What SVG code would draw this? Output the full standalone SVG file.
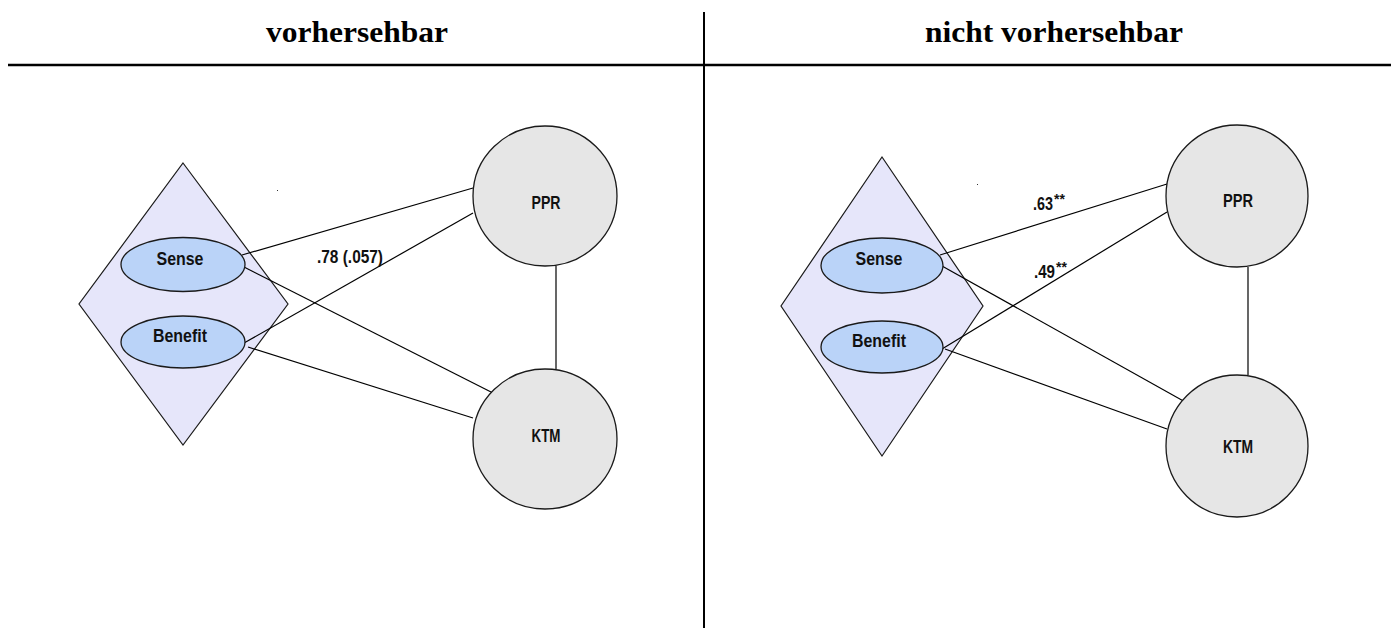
<svg xmlns="http://www.w3.org/2000/svg" width="1397" height="628" viewBox="0 0 1397 628">
  <style>
    .head { font-family: "Liberation Serif", "Times New Roman", serif; font-weight: bold; font-size: 29px; fill: #000; }
    .rule { stroke: #000; fill: none; }
    .diamond { fill: #e6e6fa; stroke: #1a1a1a; stroke-width: 1.2; }
    .oval { fill: #bad3f8; stroke: #1a1a1a; stroke-width: 1.3; }
    .circle { fill: #e6e6e6; stroke: #1a1a1a; stroke-width: 1.3; }
    .lbl { font-family: "Liberation Sans", Arial, sans-serif; font-weight: bold; font-size: 18px; fill: #111; }
    .sup { font-size: 14px; }
    .edge { stroke: #000; stroke-width: 1.2; fill: none; }
  </style>

  <!-- headings and dividing rules -->
  <g id="header">
    <text class="head" x="357" y="42" text-anchor="middle" textLength="182" lengthAdjust="spacingAndGlyphs">vorhersehbar</text>
    <text class="head" x="1054" y="42" text-anchor="middle" textLength="258" lengthAdjust="spacingAndGlyphs">nicht vorhersehbar</text>
    <line class="rule" x1="8" y1="65" x2="1391" y2="65" stroke-width="2.4"/>
    <line class="rule" x1="704" y1="12" x2="704" y2="628" stroke-width="2"/>
  </g>

  <!-- construct diamonds sit underneath the connectors -->
  <g id="left-construct">
    <polygon class="diamond" points="183,163 288,304 183,445 79,304"/>
  </g>
  <g id="right-construct">
    <polygon class="diamond" points="882,157 983,306 882,456 781,306"/>
  </g>

  <!-- connectors -->
  <g id="connectors">
    <!-- left panel -->
    <line class="edge" x1="242" y1="255" x2="473" y2="188"/>
    <line class="edge" x1="244" y1="343" x2="473" y2="213"/>
    <line class="edge" x1="244" y1="267" x2="493" y2="393"/>
    <line class="edge" x1="248" y1="347" x2="473" y2="418"/>
    <line class="edge" x1="556" y1="266" x2="556" y2="369"/>
    <!-- right panel -->
    <line class="edge" x1="940" y1="255" x2="1167" y2="184"/>
    <line class="edge" x1="942" y1="349" x2="1167" y2="212"/>
    <line class="edge" x1="942" y1="266" x2="1187" y2="403"/>
    <line class="edge" x1="945" y1="349" x2="1167" y2="429"/>
    <line class="edge" x1="1248" y1="267" x2="1248" y2="375"/>
  </g>

  <!-- left panel nodes -->
  <g id="left-sense">
    <ellipse class="oval" cx="183" cy="264.5" rx="62" ry="27"/>
    <text class="lbl" x="180" y="265" text-anchor="middle" textLength="47" lengthAdjust="spacingAndGlyphs">Sense</text>
  </g>
  <g id="left-benefit">
    <ellipse class="oval" cx="183" cy="342" rx="62" ry="26"/>
    <text class="lbl" x="180" y="342" text-anchor="middle" textLength="54" lengthAdjust="spacingAndGlyphs">Benefit</text>
  </g>
  <g id="left-ppr">
    <ellipse class="circle" cx="545" cy="196" rx="72" ry="70"/>
    <text class="lbl" x="546" y="209" text-anchor="middle" textLength="29" lengthAdjust="spacingAndGlyphs">PPR</text>
  </g>
  <g id="left-ktm">
    <ellipse class="circle" cx="545" cy="439" rx="72" ry="70"/>
    <text class="lbl" x="546" y="442" text-anchor="middle" textLength="29" lengthAdjust="spacingAndGlyphs">KTM</text>
  </g>
  <g id="left-labels">
    <text class="lbl" x="317" y="263" textLength="66" lengthAdjust="spacingAndGlyphs">.78 (.057)</text>
    <rect x="277" y="190" width="1" height="1" fill="#333"/>
  </g>

  <!-- right panel nodes -->
  <g id="right-sense">
    <ellipse class="oval" cx="882" cy="265.5" rx="61" ry="27.5"/>
    <text class="lbl" x="879" y="265" text-anchor="middle" textLength="47" lengthAdjust="spacingAndGlyphs">Sense</text>
  </g>
  <g id="right-benefit">
    <ellipse class="oval" cx="882" cy="347" rx="61" ry="26"/>
    <text class="lbl" x="879" y="347" text-anchor="middle" textLength="54" lengthAdjust="spacingAndGlyphs">Benefit</text>
  </g>
  <g id="right-ppr">
    <ellipse class="circle" cx="1237" cy="196" rx="71" ry="71"/>
    <text class="lbl" x="1238" y="207" text-anchor="middle" textLength="30" lengthAdjust="spacingAndGlyphs">PPR</text>
  </g>
  <g id="right-ktm">
    <ellipse class="circle" cx="1237" cy="446" rx="71" ry="71"/>
    <text class="lbl" x="1238" y="453" text-anchor="middle" textLength="30" lengthAdjust="spacingAndGlyphs">KTM</text>
  </g>
  <g id="right-labels">
    <text class="lbl" x="1033" y="210"><tspan textLength="20" lengthAdjust="spacingAndGlyphs">.63</tspan><tspan class="sup" dx="1" dy="-6">**</tspan></text>
    <text class="lbl" x="1034" y="278"><tspan textLength="21" lengthAdjust="spacingAndGlyphs">.49</tspan><tspan class="sup" dx="1" dy="-6">**</tspan></text>
    <rect x="977" y="184" width="1" height="1" fill="#333"/>
  </g>
</svg>
